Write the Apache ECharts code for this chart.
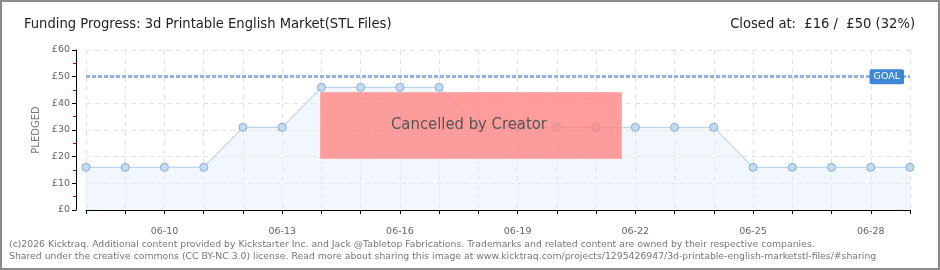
<!DOCTYPE html>
<html><head><meta charset="utf-8">
<script src="https://cdn.jsdelivr.net/npm/echarts@6/dist/echarts.min.js"></script>
<style>
html,body{margin:0;padding:0;background:#fff;}
#wrap{position:relative;width:940px;height:270px;box-sizing:border-box;border:2px solid #8a8a8a;}
#c{position:absolute;left:-2px;top:-2px;width:940px;height:270px;}
</style></head>
<body><div id="wrap"><div id="c"></div></div>
<script>
const categories = ['06-08','06-09','06-10','06-11','06-12','06-13','06-14','06-15','06-16','06-17','06-18','06-19','06-20','06-21','06-22','06-23','06-24','06-25','06-26','06-27','06-28','06-29'];
const pledged = [16,16,16,16,31,31,46,46,46,46,31,31,31,31,31,31,31,16,16,16,16,16];
const goal = 50;
const yTicks = [0,10,20,30,40,50,60];

const chart = echarts.init(document.getElementById('c'), null, {renderer:'canvas'});
const condensed = '"DejaVu Sans Condensed","Liberation Sans Narrow","DejaVu Sans",sans-serif';
const small = '"DejaVu Sans",sans-serif';
const option = {
  animation:false,
  title:[
    {text:'Funding Progress: 3d Printable English Market(STL Files)', left:19, top:12,
     textStyle:{fontFamily:condensed,fontWeight:'normal',fontSize:14.6,color:'#222'}},
    {text:'Closed at:  £16 /  £50 (32%)', right:20, top:12,
     textStyle:{fontFamily:condensed,fontWeight:'normal',fontSize:14.6,color:'#222'}}
  ],
  grid:{left:86,right:30,top:50,bottom:60},
  xAxis:{type:'category',data:categories,boundaryGap:false,offset:10,
    axisLine:{lineStyle:{color:'#000',width:1}},
    axisTick:{show:true,interval:0,length:4,inside:false,lineStyle:{color:'#000'}},
    axisLabel:{interval:(i)=> (i-2)%3===0, color:'#666',fontSize:9.5,fontFamily:small,margin:7},
    splitLine:{show:true,interval:0,lineStyle:{color:'#e2e2e2',type:[5,4]}}
  },
  yAxis:{type:'value',min:yTicks[0],max:yTicks[yTicks.length-1],interval:10,offset:10,
    name:'PLEDGED',nameLocation:'middle',nameGap:33,nameRotate:90,
    nameTextStyle:{color:'#777',fontSize:10,fontFamily:small},
    axisLine:{show:true,lineStyle:{color:'#000'}},
    axisTick:{show:true,length:4,lineStyle:{color:'#000'}},
    minorTick:{show:true,splitNumber:2,length:3,lineStyle:{color:'#e00'}},
    axisLabel:{formatter:v=>'£'+v,color:'#666',fontSize:9.5,fontFamily:small,margin:6},
    splitLine:{show:true,lineStyle:{color:'#e2e2e2',type:[5,4]}}
  },
  series:[{
    type:'line',data:pledged,symbol:'circle',symbolSize:8,
    itemStyle:{color:'#c0dbf6',borderColor:'#8eabd0',borderWidth:1},
    lineStyle:{color:'#bcd6ef',width:1.2},
    areaStyle:{color:'rgba(225,237,251,0.65)'},
    markLine:{silent:true,symbol:'none',data:[{yAxis:goal}],
      lineStyle:{color:'#94b4da',type:[4,2],width:3},label:{show:false}},
    markPoint:{silent:true,symbol:'rect',symbolSize:0,
      data:[{coord:[categories.length-1,goal]}],
      label:{show:true,formatter:'GOAL',position:'left',distance:6,color:'#fff',fontSize:9.5,
        fontFamily:small,backgroundColor:'#3d87d6',padding:[3,4,2,4],borderRadius:2}}
  }],
  graphic:[
    {type:'rect',left:320,top:92,shape:{width:301,height:66},z:100,
     style:{fill:'rgba(255,130,130,0.78)',stroke:'rgba(255,170,170,0.9)',lineWidth:1}},
    {type:'text',left:391,top:116,z:101,
     style:{text:'Cancelled by Creator',font:'16.5px '+condensed,fill:'#555',
       textShadowColor:'#fff',textShadowOffsetX:1,textShadowOffsetY:1,textShadowBlur:0}},
    {type:'text',left:9,top:240,z:10,style:{text:'(c)2026 Kicktraq. Additional content provided by Kickstarter Inc. and Jack @Tabletop Fabrications. Trademarks and related content are owned by their respective companies.',font:'9.3px '+small,fill:'#777'}},
    {type:'text',left:9,top:252,z:10,style:{text:'Shared under the creative commons (CC BY-NC 3.0) license. Read more about sharing this image at www.kicktraq.com/projects/1295426947/3d-printable-english-marketstl-files/#sharing',font:'9.3px '+small,fill:'#777'}}
  ]
};
chart.setOption(option);
</script></body></html>
